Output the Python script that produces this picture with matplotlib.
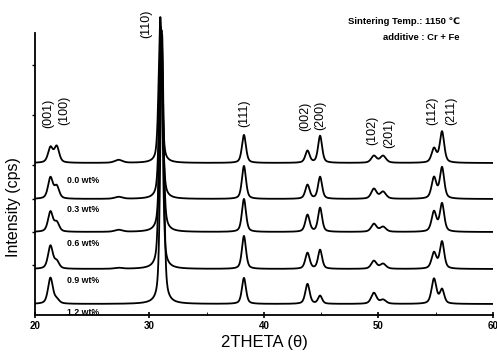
import numpy as np
import matplotlib.pyplot as plt

plt.rcParams['font.family'] = ['Liberation Sans', 'DejaVu Sans']

# peak positions (2theta, deg) and widths (FWHM, deg)
peak_pos = [21.35, 21.9, 27.3, 31.0, 38.25, 43.8, 44.9, 49.6, 50.4, 54.85, 55.55]
peak_fwhm = [0.5, 0.5, 0.8, 0.35, 0.42, 0.45, 0.42, 0.55, 0.6, 0.5, 0.45]
# (110) peak position in each trace
pos_110 = [30.95, 31.0, 31.05, 31.0, 31.1]

# peak heights for each trace (arbitrary units)
h_00 = [15, 16, 3, 146, 28, 12, 27, 7, 7, 14, 31]
h_03 = [21, 12, 2, 172, 33, 14, 22, 10, 7, 21, 31]
h_06 = [20, 9, 2, 202, 33, 17, 24, 8, 5, 20, 28]
h_09 = [23, 7, 1, 236, 33, 16, 19, 8, 5, 16, 27]
h_12 = [26, 4, 0, 270, 26, 20, 8, 11, 4, 25, 14]
heights = [h_00, h_03, h_06, h_09, h_12]
offsets = [152, 116, 83, 46, 11]
wt_labels = ['0.0 wt%', '0.3 wt%', '0.6 wt%', '0.9 wt%', '1.2 wt%']
wt_label_y = [134, 105, 72, 35, 3]

hkl = ['(001)', '(100)', '(110)', '(111)', '(002)', '(200)',
       '(102)', '(201)', '(112)', '(211)']
hkl_x = [21.15, 22.55, 29.7, 38.25, 43.6, 44.9, 49.45, 50.9, 54.7, 56.35]
hkl_y = [187, 190, 277, 188, 184, 185, 170, 167, 190, 190]


def pvoigt(x, x0, h, w, eta=0.5):
    g = np.exp(-4 * np.log(2) * (x - x0) ** 2 / w ** 2)
    l = 1.0 / (1 + 4 * (x - x0) ** 2 / w ** 2)
    return h * (eta * l + (1 - eta) * g)


tt = np.linspace(20, 60, 2000)

fig = plt.figure(figsize=(4.97, 3.58), dpi=100)
ax = fig.add_axes([0.0704, 0.1201, 0.9215, 0.852])

for hs, off, p110 in zip(heights, offsets, pos_110):
    y = np.zeros_like(tt)
    for i, (x0, w, h) in enumerate(zip(peak_pos, peak_fwhm, hs)):
        if i == 3:
            x0 = p110
        y += pvoigt(tt, x0, h, w)
    ax.plot(tt, y + off, color='black', lw=1.3)

for lab, ly in zip(wt_labels, wt_label_y):
    ax.text(22.8, ly, lab, fontsize=6.3, fontweight='bold', va='center', ha='left')

for lab, lx, ly in zip(hkl, hkl_x, hkl_y):
    ax.text(lx, ly, lab, rotation=90, fontsize=9, ha='center', va='bottom')

ax.text(57.1, 293, 'Sintering Temp.: 1150 \u2103', fontsize=6.8, fontweight='bold',
        ha='right', va='center')
ax.text(57.1, 277, 'additive : Cr + Fe', fontsize=6.8, fontweight='bold',
        ha='right', va='center')

ax.set_xlim(20, 60)
ax.set_ylim(0, 305)
ax.spines['top'].set_visible(False)
ax.spines['right'].set_visible(False)
ax.spines['left'].set_bounds(0, 282)
ax.spines['left'].set_linewidth(1.3)
ax.spines['bottom'].set_linewidth(1.3)

ax.set_xticks([20, 30, 40, 50, 60])
ax.set_xticks([25, 35, 45, 55], minor=True)
ax.set_yticks([50, 83, 116, 150, 200, 250])
ax.set_yticklabels([])
ax.tick_params(axis='x', direction='inout', length=5, width=1.2, labelsize=7, pad=2)
ax.tick_params(axis='x', which='minor', direction='in', length=2)
ax.tick_params(axis='y', direction='out', length=2, width=1)
for t in ax.get_xticklabels():
    t.set_fontweight('bold')

ax.set_xlabel('2THETA (\u03b8)', fontsize=12, labelpad=3)
ax.set_ylabel('Intensity (cps)', fontsize=11.5)
ax.yaxis.set_label_coords(-0.03, 0.354)

fig.savefig('out.png', dpi=100)
